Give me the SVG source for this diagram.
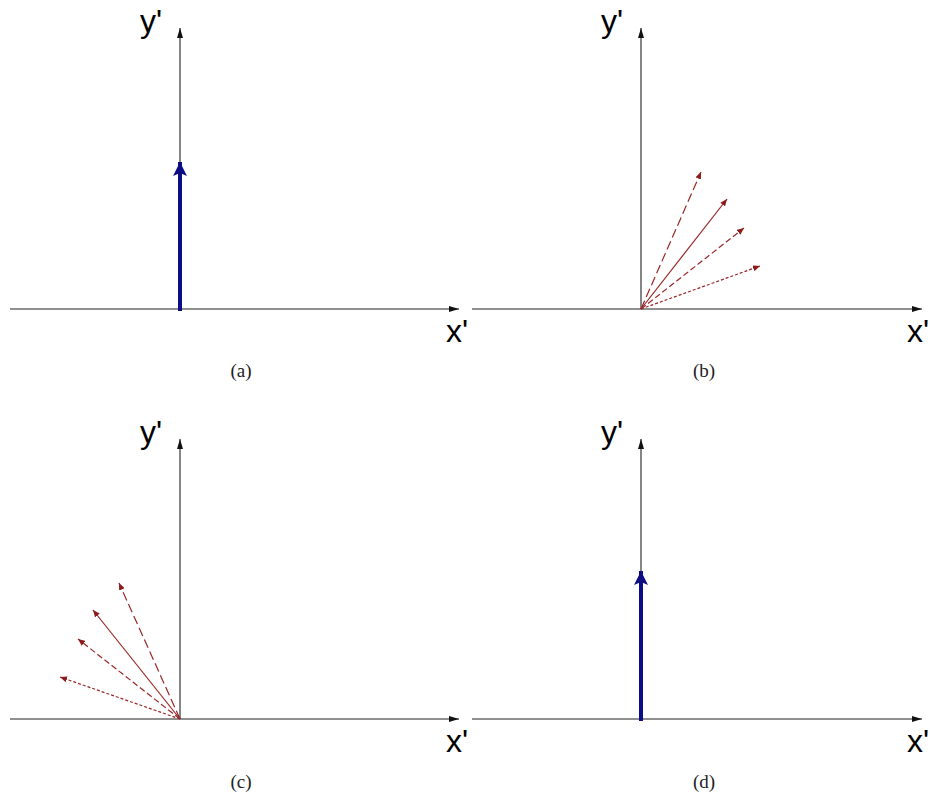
<svg xmlns="http://www.w3.org/2000/svg" width="930" height="797" viewBox="0 0 930 797">
<defs>
<marker id="ax" viewBox="0 0 10 6" refX="10" refY="3" markerWidth="10" markerHeight="6" markerUnits="userSpaceOnUse" orient="auto">
<path d="M0,0 L10,3 L0,6 Z" fill="#111"/>
</marker>
<marker id="bl" viewBox="0 0 14 14" refX="14" refY="7" markerWidth="14" markerHeight="14" markerUnits="userSpaceOnUse" orient="auto">
<path d="M0,0 L14,7 L0,14 L3,7 Z" fill="#0c0c85"/>
</marker>
<marker id="rd" viewBox="0 0 7 6" refX="7" refY="3" markerWidth="7" markerHeight="6" markerUnits="userSpaceOnUse" orient="auto">
<path d="M0,0 L7,3 L0,6 Z" fill="#8e1b1b"/>
</marker>
<style>
.axis{stroke:#222;stroke-width:1.1;fill:none;marker-end:url(#ax)}
.blue{stroke:#0c0c85;stroke-width:4;fill:none;marker-end:url(#bl)}
.red{stroke:#9a2626;stroke-width:1.2;fill:none;marker-end:url(#rd)}
.d1{stroke-dasharray:9 4}
.d3{stroke-dasharray:6 3}
.d4{stroke-dasharray:3 2}
.lab{font-family:"Liberation Sans",Arial,sans-serif;font-size:32px;fill:#000}
.cap{font-family:"Liberation Serif","DejaVu Serif",serif;font-size:19px;fill:#222;text-anchor:middle}
</style>
</defs>

<g id="panel-a">
<line class="axis" x1="10" y1="309" x2="459" y2="309"/>
<line class="axis" x1="180" y1="309" x2="180" y2="28"/>
<text class="lab" x="140" y="32">y'</text>
<text class="lab" x="446" y="342">x'</text>
<text class="cap" x="241" y="377">(a)</text>
</g>

<g id="panel-b">
<line class="axis" x1="472" y1="309" x2="922" y2="309"/>
<line class="axis" x1="641" y1="309" x2="641" y2="28"/>
<text class="lab" x="601" y="32">y'</text>
<text class="lab" x="907" y="342">x'</text>
<text class="cap" x="704" y="377">(b)</text>
</g>

<g id="panel-c">
<line class="axis" x1="10" y1="719" x2="459" y2="719"/>
<line class="axis" x1="180" y1="719" x2="180" y2="439"/>
<text class="lab" x="140" y="443">y'</text>
<text class="lab" x="446" y="752">x'</text>
<text class="cap" x="241" y="788">(c)</text>
</g>

<g id="panel-d">
<line class="axis" x1="472" y1="719" x2="922" y2="719"/>
<line class="axis" x1="641" y1="719" x2="641" y2="439"/>
<text class="lab" x="601" y="443">y'</text>
<text class="lab" x="907" y="752">x'</text>
<text class="cap" x="704" y="788">(d)</text>
</g>

<g id="connectors">
<line class="blue" x1="180" y1="311" x2="180" y2="162"/>
<line class="blue" x1="641" y1="721" x2="641" y2="571"/>
<line class="red d1" x1="641" y1="309" x2="701" y2="172"/>
<line class="red" x1="641" y1="309" x2="727" y2="199"/>
<line class="red d3" x1="641" y1="309" x2="744" y2="228"/>
<line class="red d4" x1="641" y1="309" x2="760" y2="266"/>
<line class="red d1" x1="180" y1="719" x2="119" y2="583"/>
<line class="red" x1="180" y1="719" x2="93" y2="610"/>
<line class="red d3" x1="180" y1="719" x2="78" y2="639"/>
<line class="red d4" x1="180" y1="719" x2="60" y2="677"/>
</g>
</svg>
